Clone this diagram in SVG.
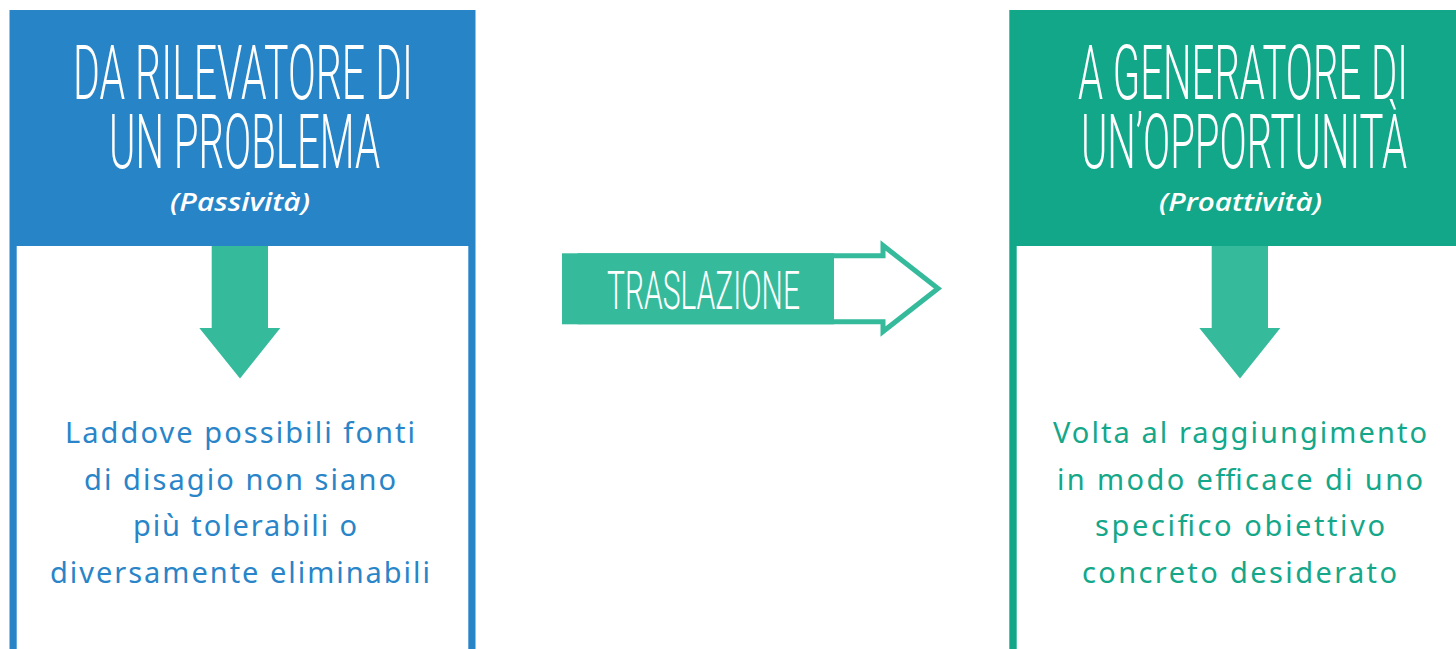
<svg xmlns="http://www.w3.org/2000/svg" width="1456" height="649" viewBox="0 0 1456 649">
<style>
.title{font-family:Roboto,"Liberation Sans Narrow","Liberation Sans",sans-serif;font-size:44px;font-weight:300;fill:#ffffff}
.sub{font-family:"Open Sans","Noto Sans",sans-serif;font-size:26px;font-style:italic;font-weight:600;fill:#ffffff}
.body{font-family:"Noto Sans","Open Sans",sans-serif;font-size:29px}
.blue{fill:#2985C8}
.green{fill:#14A789}
.arrow{fill:#35BB9C}
</style>
<rect width="1456" height="649" fill="#ffffff"/>
<g id="left-node">
<rect x="9.5" y="10" width="466" height="660" fill="#2784C7"/>
<rect x="16.7" y="246" width="451.6" height="420" fill="#ffffff"/>
<text class="title" transform="translate(73,99) scale(1,1.73)" textLength="340" lengthAdjust="spacingAndGlyphs">DA RILEVATORE DI</text>
<text class="title" transform="translate(109,168) scale(1,1.73)" textLength="271" lengthAdjust="spacingAndGlyphs">UN PROBLEMA</text>
<text class="sub" x="170" y="211" textLength="140" lengthAdjust="spacingAndGlyphs">(Passività)</text>
<polygon class="arrow" points="211.7,246 268,246 268,328 280.3,328 240,378.5 199.3,328 211.7,328"/>
<text class="body blue" x="65" y="443" textLength="350" lengthAdjust="spacing">Laddove possibili fonti</text>
<text class="body blue" x="84" y="490" textLength="312" lengthAdjust="spacing">di disagio non siano</text>
<text class="body blue" x="133" y="536" textLength="224" lengthAdjust="spacing">più tolerabili o</text>
<text class="body blue" x="50" y="583" textLength="380" lengthAdjust="spacing">diversamente eliminabili</text>
</g>
<g id="right-node">
<rect x="1009.3" y="10" width="466" height="660" fill="#12A789"/>
<rect x="1016.7" y="246" width="451.6" height="420" fill="#ffffff"/>
<text class="title" transform="translate(1078,99) scale(1,1.73)" textLength="330" lengthAdjust="spacingAndGlyphs">A GENERATORE DI</text>
<text class="title" transform="translate(1081,168) scale(1,1.73)" textLength="326" lengthAdjust="spacingAndGlyphs">UN’OPPORTUNITÀ</text>
<text class="sub" x="1159" y="211" textLength="163" lengthAdjust="spacingAndGlyphs">(Proattività)</text>
<polygon class="arrow" points="1211.7,246 1268,246 1268,328 1280.3,328 1240,378.5 1199.3,328 1211.7,328"/>
<text class="body green" x="1053" y="443" textLength="374" lengthAdjust="spacing">Volta al raggiungimento</text>
<text class="body green" x="1057" y="490" textLength="366" lengthAdjust="spacing">in modo efficace di uno</text>
<text class="body green" x="1095" y="536" textLength="290" lengthAdjust="spacing">specifico obiettivo</text>
<text class="body green" x="1082" y="583" textLength="315" lengthAdjust="spacing">concreto desiderato</text>
</g>
<g id="connectors">
<g id="traslazione">
<path d="M580,255.8 H883 V245.5 L938,288.5 L883,331.5 V321.8 H580 Z" fill="#ffffff" stroke="#35BB9C" stroke-width="5"/>
<rect x="562" y="253.3" width="272" height="71" fill="#35BB9C"/>
<text class="title" transform="translate(607,309.3) scale(1,1.73)" style="font-size:31px" textLength="193" lengthAdjust="spacingAndGlyphs">TRASLAZIONE</text>
</g>
</g>
</svg>
